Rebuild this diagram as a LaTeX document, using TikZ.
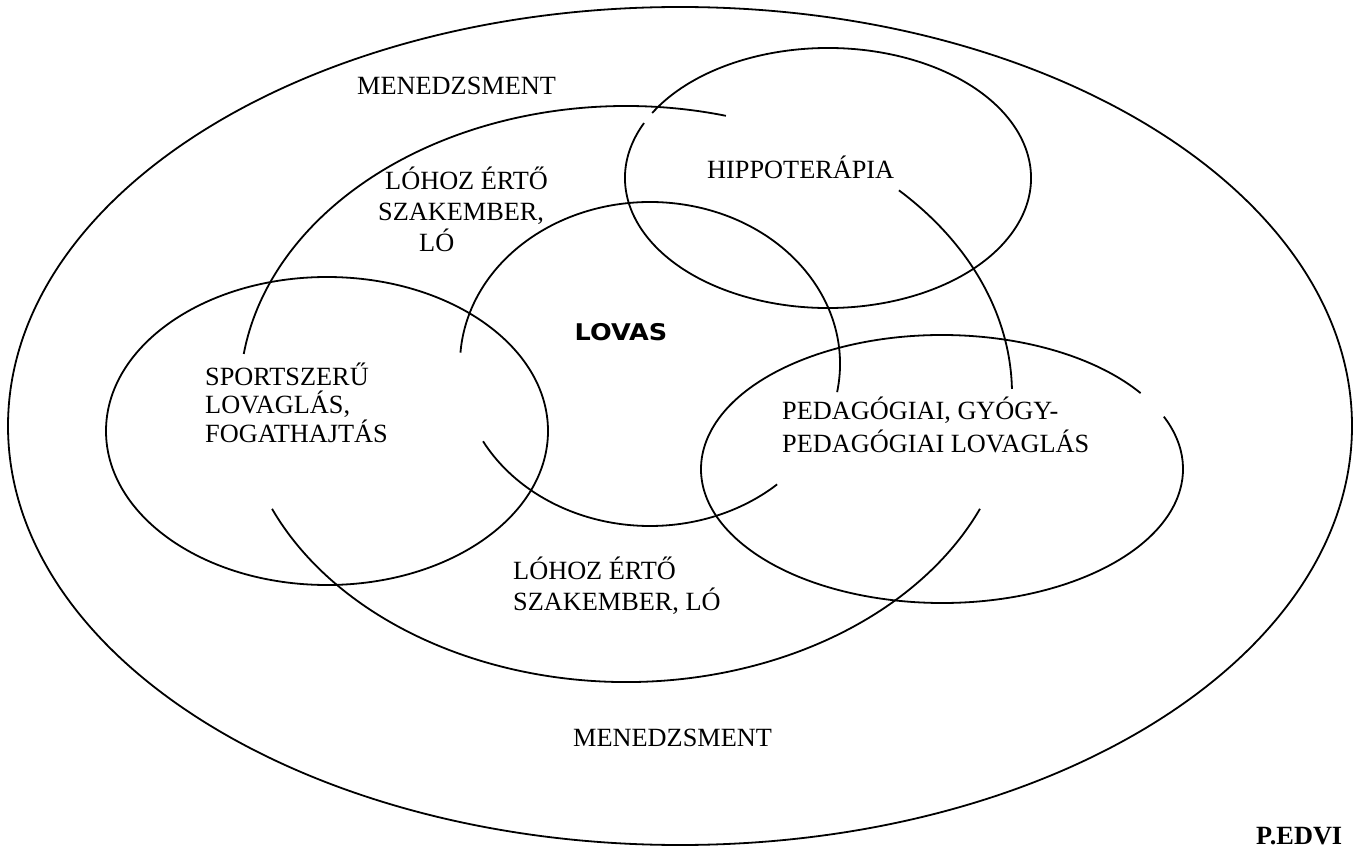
\documentclass[tikz,border=0pt]{standalone}
\usepackage{fontspec}
\usepackage{graphicx}
\setmainfont{Liberation Serif}
\newfontfamily\lovasfont{DejaVu Sans}

\begin{document}
\begin{tikzpicture}[
  x=1pt, y=1pt,
  ring/.style={draw, line width=1.8pt},
  word/.style={anchor=base west, inner sep=0pt, align=left, font=\fontsize{26.3}{31}\selectfont}
]
\useasboundingbox (0,0) rectangle (1359,847);

% Centres of the rings
\coordinate (outer) at (680,421);
\coordinate (middle) at (626,453);
\coordinate (lovas) at (650,483);
\coordinate (sport) at (327,416);
\coordinate (hippo) at (828,669);
\coordinate (peda) at (942,378);

% Outer ring
\draw[ring] (outer) ellipse [x radius=672, y radius=419];

% Broken middle ring
\draw[ring] (middle) ++(75:386 and 288) arc [start angle=75, end angle=172, x radius=386, y radius=288];
\draw[ring] (middle) ++(1:386 and 288) arc [start angle=1, end angle=45, x radius=386, y radius=288];
\draw[ring] (middle) ++(203.5:386 and 288) arc [start angle=203.5, end angle=336.5, x radius=386, y radius=288];

% Broken inner ring
\draw[ring] (lovas) ++(-10:190 and 162) arc [start angle=-10, end angle=176, x radius=190, y radius=162];
\draw[ring] (lovas) ++(208.5:190 and 162) arc [start angle=208.5, end angle=312, x radius=190, y radius=162];

% Field rings
\draw[ring] (sport) ellipse [x radius=221, y radius=154];
\draw[ring] (hippo) ++(155:203 and 130) arc [start angle=155, end angle=510, x radius=203, y radius=130];
\draw[ring] (peda) ++(34.5:241 and 134) arc [start angle=34.5, end angle=383, x radius=241, y radius=134];

% Texts (base = last line)
\node[word] (menTop) at (357,752) {MENEDZSMENT};
\node[word] (expertTop) at (378,595) {\hspace*{7pt}LÓHOZ ÉRTŐ\\SZAKEMBER,\\\hspace*{41pt}LÓ};
\node[word, font=\fontsize{26.3}{28.5}\selectfont] (sportTxt) at (205,405) {SPORTSZERŰ\\LOVAGLÁS,\\FOGATHAJTÁS};
\node[anchor=base, inner sep=0pt, font=\lovasfont\bfseries\fontsize{23}{27}\selectfont] (lovasTxt) at (621,506) {\scalebox{1.11}[1]{LOVAS}};
\node[word] (hippoTxt) at (707,668) {HIPPOTERÁPIA};
\node[word, font=\fontsize{26.3}{32}\selectfont] (pedaTxt) at (782,395) {PEDAGÓGIAI, GYÓGY-\\PEDAGÓGIAI LOVAGLÁS};
\node[word] (expertBot) at (513,237) {LÓHOZ ÉRTŐ\\SZAKEMBER, LÓ};
\node[word] (menBot) at (573,101) {MENEDZSMENT};
\node[word, font=\fontsize{26.3}{31}\selectfont\bfseries] (author) at (1256,3) {P.EDVI};
\end{tikzpicture}
\end{document}
